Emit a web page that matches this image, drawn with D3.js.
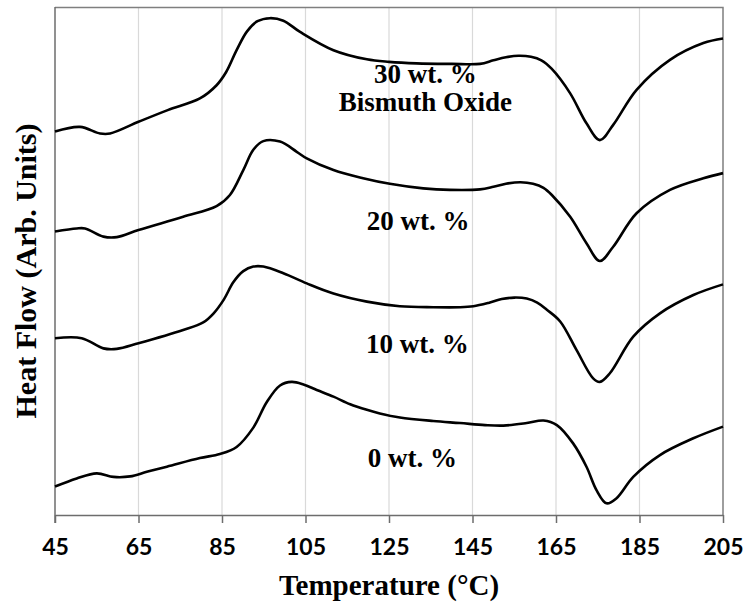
<!DOCTYPE html>
<html>
<head>
<meta charset="utf-8">
<script src="https://cdn.jsdelivr.net/npm/d3@7"></script>
<style>
  body { margin: 0; background: #fff; }
  .tick text { font-family: Lato, "DejaVu Sans", sans-serif; font-weight: bold; }
  .lbl { font-family: "Liberation Serif", "Times New Roman", serif; font-weight: bold; }
</style>
</head>
<body>
<script>
// DSC traces, [temperature °C, heat flow (arb. units, curves offset)]
const wt30 = [[45,7.55],[51,7.64],[55.8,7.51],[58.2,7.51],[65,7.74],[72,7.97],[79.7,8.20],[83.7,8.46],[86,8.72],
  [88.5,9.15],[91,9.52],[93.5,9.72],[96.5,9.78],[99.7,9.73],[103.7,9.51],[111.7,9.15],[119.7,8.97],[125,8.92],[131.6,8.89],
  [140,8.88],[146.8,8.88],[150,8.95],[153,9.01],[156,9.04],[159,9.02],[161.5,8.95],[164,8.78],[168.4,8.30],
  [172.3,7.71],[175.5,7.38],[178.7,7.68],[184.3,8.37],[192.3,8.96],[200.3,9.29],[205,9.38]];
const wt20 = [[45,5.58],[50.2,5.64],[52.2,5.64],[56.6,5.48],[59.8,5.47],[65,5.61],[75.7,5.87],[83.7,6.08],[86.9,6.30],
  [90.1,6.79],[92.5,7.19],[94.9,7.36],[98.9,7.35],[102.9,7.15],[105.3,7.02],[111.7,6.79],[118.8,6.63],[125.2,6.52],
  [133.2,6.43],[139.6,6.40],[146.8,6.41],[150,6.46],[153,6.52],[156.5,6.55],[159.5,6.52],[162,6.44],[164,6.30],
  [168.4,5.87],[172.3,5.35],[175.5,5.00],[178.7,5.28],[184.3,5.94],[192.3,6.40],[200.3,6.63],[205,6.73]];
const wt10 = [[45,3.48],[51.4,3.48],[56.6,3.28],[59.8,3.27],[65,3.38],[75.7,3.64],[80.5,3.79],[83,3.97],[85.5,4.25],
  [87.7,4.58],[90.1,4.80],[92.5,4.89],[94.9,4.89],[99.7,4.76],[105.3,4.56],[111.7,4.36],[119.7,4.20],[127.6,4.11],
  [135.6,4.09],[142,4.09],[145.2,4.11],[149,4.18],[152,4.25],[155,4.28],[158,4.26],[160.5,4.18],[162.8,4.04],
  [166,3.81],[169.9,3.25],[173.9,2.69],[175.5,2.62],[177.9,2.79],[183.5,3.51],[189.9,3.97],[197.9,4.33],[205,4.54]];
const wt0 = [[45,0.56],[50.2,0.72],[55,0.82],[59,0.75],[63,0.76],[67,0.85],[71.8,0.95],[79.7,1.12],[84.5,1.20],
  [88.5,1.34],[92.5,1.72],[95.7,2.22],[98.9,2.55],[101.7,2.62],[104.5,2.57],[107.7,2.46],[111.7,2.33],[115.7,2.18],
  [119.7,2.07],[122.8,2.00],[127.6,1.92],[135.6,1.85],[142,1.81],[148,1.77],[152.4,1.76],[158,1.81],[162,1.86],
  [165.2,1.77],[169.1,1.41],[172.3,0.95],[174.7,0.49],[177.1,0.23],[179.5,0.33],[183.5,0.75],[189.9,1.18],
  [197.9,1.51],[205,1.74]];

const xTicks = [45, 65, 85, 105, 125, 145, 165, 185, 205];
const labels = [
  {lines: ["30 wt. %", "Bismuth Oxide"], t: 133.7, y: 8.5},
  {lines: ["20 wt. %"], t: 132, y: 5.61},
  {lines: ["10 wt. %"], t: 131.8, y: 3.19},
  {lines: ["0 wt. %"], t: 130.6, y: 0.94}
];

const W = 745, H = 604;
const margin = {top: 7, right: 22, bottom: 89, left: 55};
const width = W - margin.left - margin.right;
const height = H - margin.top - margin.bottom;

const svg = d3.select("body").append("svg")
    .attr("width", W)
    .attr("height", H);
const g = svg.append("g")
    .attr("transform", `translate(${margin.left},${margin.top})`);

const x = d3.scaleLinear().domain([45, 205]).range([0, width]);
const y = d3.scaleLinear().domain([0, 10]).range([height, height - 508]);

// vertical grid
g.append("g")
  .selectAll("line")
  .data(xTicks.slice(1, -1))
  .enter().append("line")
    .attr("x1", d => x(d)).attr("x2", d => x(d))
    .attr("y1", 0).attr("y2", height)
    .attr("stroke", "#d9d9d9").attr("stroke-width", 1.2);

// plot frame (top and right)
g.append("path")
  .attr("d", `M0,0.5H${width}V${height}`)
  .attr("fill", "none").attr("stroke", "#7f7f7f").attr("stroke-width", 1.5);

const xAxis = g.append("g")
  .attr("transform", `translate(0,${height})`)
  .call(d3.axisBottom(x).tickValues(xTicks).tickSize(8).tickPadding(16).tickSizeOuter(0));
xAxis.selectAll("line, path").attr("stroke", "#6d6d6d").attr("stroke-width", 1.5);
xAxis.selectAll("text").attr("font-size", 23).attr("fill", "#000");

g.append("line")
  .attr("x1", 0).attr("x2", 0).attr("y1", 0).attr("y2", height + 8)
  .attr("stroke", "#6d6d6d").attr("stroke-width", 1.5);

const line = d3.line()
  .x(d => x(d[0]))
  .y(d => y(d[1]))
  .curve(d3.curveCatmullRom.alpha(0.5));

g.selectAll(".trace")
  .data([wt30, wt20, wt10, wt0])
  .enter().append("path")
    .attr("class", "trace")
    .attr("d", line)
    .attr("fill", "none")
    .attr("stroke", "#000")
    .attr("stroke-width", 2.6)
    .attr("stroke-linejoin", "round");

labels.forEach(l => {
  const t = g.append("text")
    .attr("class", "lbl")
    .attr("x", x(l.t))
    .attr("y", y(l.y))
    .attr("text-anchor", "middle")
    .attr("font-size", 27);
  l.lines.forEach((s, i) => {
    t.append("tspan").attr("x", x(l.t)).attr("dy", i ? 28 : 0).text(s);
  });
});

svg.append("text")
  .attr("class", "lbl")
  .attr("x", margin.left + width / 2)
  .attr("y", 595)
  .attr("text-anchor", "middle")
  .attr("font-size", 29)
  .text("Temperature (°C)");

svg.append("text")
  .attr("class", "lbl")
  .attr("transform", `translate(36,${271}) rotate(-90)`)
  .attr("text-anchor", "middle")
  .attr("font-size", 30)
  .text("Heat Flow (Arb. Units)");
</script>
</body>
</html>
